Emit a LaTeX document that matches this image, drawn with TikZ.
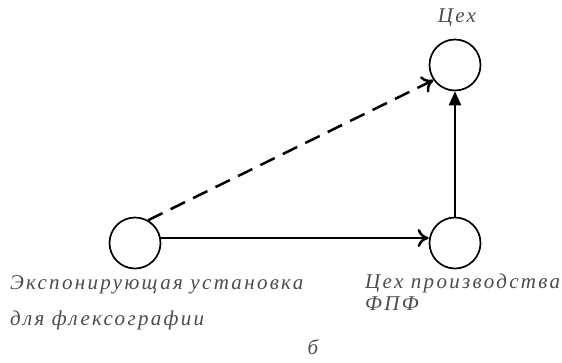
\documentclass[tikz,border=0pt]{standalone}
\usepackage{fontspec}
\setmainfont{Liberation Serif}
\newfontfamily\lblfont[LetterSpace=11,ItalicFont={Liberation Serif Italic}]{Liberation Serif}
\usetikzlibrary{arrows.meta}
\begin{document}
\begin{tikzpicture}[x=1pt,y=-1pt,
  state/.style={circle,draw,line width=1.7pt,minimum size=51pt,inner sep=0pt},
  lbl/.style={font=\lblfont\itshape\fontsize{21}{23}\selectfont,anchor=west,inner sep=0pt,text=black!70},
  conn/.style={line width=2.5pt}]
\useasboundingbox (0,0) rectangle (562,362);
\node[state] (a) at (135,243) {};
\node[state] (b) at (455,243) {};
\node[state] (c) at (455,65) {};
\draw[conn,-{To[length=11pt,width=18pt,line width=2.5pt]}] (a.east |- 0,238) -- (b.west |- 0,238);
\draw[conn,-{Triangle[length=14pt,width=12pt]}] (b.north) -- (c.south);
\draw[conn,dashed,dash pattern=on 16pt off 9pt,-{To[length=11pt,width=18pt,line width=2.5pt]}] (a.60) -- (c.215);
\node[lbl,anchor=center] (tc) at (457,18) {Цех};
\node[lbl] (ta1) at (10,285) {Экспонирующая установка};
\node[lbl] (ta2) at (10,320) {для флексографии};
\node[lbl] (tb1) at (365,283) {Цех производства};
\node[lbl] (tb2) at (365,304) {ФПФ};
\node[lbl,anchor=center] (tl) at (313,347) {б};
\end{tikzpicture}
\end{document}
